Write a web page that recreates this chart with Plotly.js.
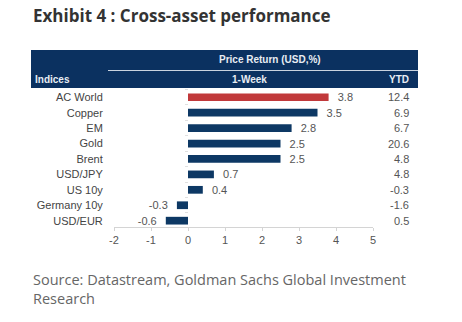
<!DOCTYPE html>
<html>
<head>
<meta charset="utf-8">
<script src="https://cdn.plot.ly/plotly-3.0.1.min.js"></script>
<style>html,body{margin:0;padding:0;background:#fff;}#chart{width:462px;height:322px;}</style>
</head>
<body>
<div id="chart"></div>
<script>
var categories = ["AC World", "Copper", "EM", "Gold", "Brent", "USD/JPY", "US 10y", "Germany 10y", "USD/EUR"];
var weekReturn = [3.8, 3.5, 2.8, 2.5, 2.5, 0.7, 0.4, -0.3, -0.6];
var ytdReturn = [12.4, 6.9, 6.7, 20.6, 4.8, 4.8, -0.3, -1.6, 0.5];
var xTickVals = [-2, -1, 0, 1, 2, 3, 4, 5];
var barColors = categories.map(function (c, i) { return i === 0 ? "#c1393b" : "#0d3864"; });

var W = 462, H = 322;
var L = 114, R = 373, T = 88, B = 227;
function px(x) { return (x - L) / (R - L); }
function py(y) { return (B - y) / (B - T); }

var bar = {
  type: "bar",
  orientation: "h",
  y: categories,
  x: weekReturn,
  marker: { color: barColors, line: { width: 0 } },
  width: 0.5,
  text: weekReturn.map(function (v) { return v < 0 ? v.toFixed(1) + "  " : "  " + v.toFixed(1); }),
  textposition: "outside",
  constraintext: "none",
  cliponaxis: false,
  textfont: { family: "Liberation Sans, Arial, sans-serif", size: 11, color: "#555" },
  hoverinfo: "none"
};

// invisible trace to draw faint ticks on the zero line
var zeroTicks = {
  type: "scatter", mode: "none", y: categories, x: categories.map(function () { return 0; }),
  yaxis: "y2", hoverinfo: "none"
};

var annotations = [
  { xref: "paper", yref: "paper", x: px(31), y: py(16), xanchor: "left", yanchor: "middle",
    text: "<b>Exhibit 4 : Cross-asset performance</b>", showarrow: false,
    font: { family: "Open Sans, sans-serif", size: 17, color: "#333" } },
  { xref: "paper", yref: "paper", x: px(270), y: py(60), xanchor: "center", yanchor: "middle",
    text: "<b>Price Return (USD,%)</b>", showarrow: false,
    font: { family: "Liberation Sans, Arial, sans-serif", size: 10, color: "#e8edf3" } },
  { xref: "paper", yref: "paper", x: px(33), y: py(80), xanchor: "left", yanchor: "middle",
    text: "<b>Indices</b>", showarrow: false,
    font: { family: "Liberation Sans, Arial, sans-serif", size: 10, color: "#e8edf3" } },
  { xref: "paper", yref: "paper", x: px(249), y: py(80), xanchor: "center", yanchor: "middle",
    text: "<b>1-Week</b>", showarrow: false,
    font: { family: "Liberation Sans, Arial, sans-serif", size: 10, color: "#e8edf3" } },
  { xref: "paper", yref: "paper", x: px(411), y: py(80), xanchor: "right", yanchor: "middle",
    text: "<b>YTD</b>", showarrow: false,
    font: { family: "Liberation Sans, Arial, sans-serif", size: 10, color: "#e8edf3" } },
  { xref: "paper", yref: "paper", x: px(31), y: py(289), xanchor: "left", yanchor: "middle",
    align: "left",
    text: "Source: Datastream, Goldman Sachs Global Investment<br>Research", showarrow: false,
    font: { family: "Open Sans, sans-serif", size: 14.5, color: "#666" } }
];
categories.forEach(function (c, i) {
  annotations.push({
    xref: "paper", yref: "y", x: px(411), y: c, xanchor: "right", yanchor: "middle",
    text: ytdReturn[i].toFixed(1), showarrow: false,
    font: { family: "Liberation Sans, Arial, sans-serif", size: 11, color: "#555" }
  });
});

var shapes = [
  { type: "rect", xref: "paper", yref: "paper", x0: px(31), x1: px(418), y0: py(88), y1: py(50),
    fillcolor: "#0b3160", line: { width: 0 }, layer: "below" },
  { type: "line", xref: "paper", yref: "paper", x0: px(108), x1: px(418), y0: py(70.5), y1: py(70.5),
    line: { color: "#c9d3df", width: 1.2 } }
];

var layout = {
  width: W, height: H,
  margin: { l: L, r: W - R, t: T, b: H - B, pad: 0 },
  paper_bgcolor: "#fff", plot_bgcolor: "rgba(0,0,0,0)",
  showlegend: false,
  bargap: 0.5,
  xaxis: {
    range: [-2, 5], tickvals: xTickVals, ticktext: xTickVals.map(String),
    showgrid: false, zeroline: false,
    showline: true, linecolor: "#d4d4d4", linewidth: 1,
    ticks: "outside", ticklen: 3, tickcolor: "#d4d4d4",
    tickfont: { family: "Liberation Sans, Arial, sans-serif", size: 11, color: "#555" },
    fixedrange: true
  },
  yaxis: {
    type: "category", categoryorder: "array", categoryarray: categories,
    range: [8.41, -0.6],
    showgrid: false, zeroline: false, showline: false,
    ticks: "outside", ticklen: 8, tickcolor: "rgba(0,0,0,0)",
    tickfont: { family: "Liberation Sans, Arial, sans-serif", size: 11, color: "#444" },
    fixedrange: true
  },
  yaxis2: {
    type: "category", categoryorder: "array", categoryarray: categories,
    range: [8.41, -0.6], overlaying: "y", anchor: "free", position: px(188),
    side: "left", showgrid: false, zeroline: false, showline: false,
    showticklabels: false, ticks: "outside", tickson: "boundaries",
    ticklen: 3, tickcolor: "#e0e0e0", fixedrange: true
  },
  annotations: annotations,
  shapes: shapes
};

Plotly.newPlot("chart", [bar, zeroTicks], layout, { staticPlot: true, displayModeBar: false });
</script>
</body>
</html>
